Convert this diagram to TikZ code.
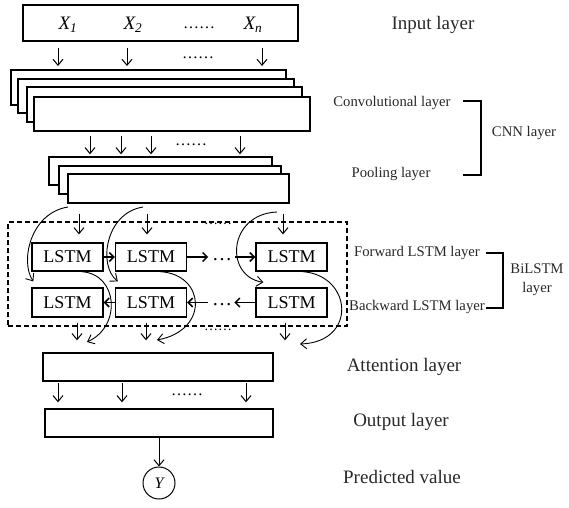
\documentclass[tikz,border=0pt]{standalone}
\usepackage{fontspec}
\setmainfont{Liberation Serif}
\usetikzlibrary{arrows.meta}
\definecolor{labc}{RGB}{40,40,40}
\begin{document}
\begin{tikzpicture}[x=1pt,y=-1pt,
 box/.style={draw, line width=1.4pt, fill=white, inner sep=0pt},
 arr/.style={-{Straight Barb[length=6pt,width=10pt]}, line width=1pt},
 harr/.style={-{Straight Barb[length=4.5pt,width=9pt]}, line width=1.5pt},
 carr/.style={-{Straight Barb[length=6pt,width=10pt]}, line width=0.9pt},
 lstm/.style={draw, line width=1.3pt, fill=white, minimum width=71pt, minimum height=28pt, inner sep=0pt, font=\fontsize{18}{18}\selectfont},
 lbl/.style={font=\fontsize{19}{20}\selectfont, text=labc},
 slbl/.style={font=\fontsize{14.7}{19}\selectfont, text=labc, align=center},
 dotsn/.style={font=\fontsize{16}{16}\selectfont, inner sep=0pt, anchor=base},
 xin/.style={font=\fontsize{19}{19}\selectfont\itshape},
 brk/.style={line width=1.6pt},
]
\useasboundingbox (0,0) rectangle (569,507);

% input layer
\node[box, minimum width=275pt, minimum height=36pt] (in) at (160.5,23) {};
\node[xin] (x1) at (68,25) {X\textsubscript{1}};
\node[xin] (x2) at (133,25) {X\textsubscript{2}};
\node[dotsn] (d1) at (199,28) {……};
\node[xin] (xn) at (253,25) {X\textsubscript{n}};
\foreach \x in {58,127,262} \draw[arr, shorten <=6pt, shorten >=4pt] (in.south -| \x,0) -- (\x,70);
\node[dotsn] (d2) at (198,58) {……};

% convolutional stack
\node[box, minimum width=275pt, minimum height=35pt] (c1) at (148.5,87.5) {};
\node[box, minimum width=276pt, minimum height=34pt] (c2) at (156,96) {};
\node[box, minimum width=275pt, minimum height=35pt] (c3) at (164.5,104.5) {};
\node[box, minimum width=276pt, minimum height=34pt] (c4) at (172,114) {};

% pooling stack
\node[box, minimum width=223pt, minimum height=28pt] (p1) at (160.5,171) {};
\node[box, minimum width=222pt, minimum height=28pt] (p2) at (170,180) {};
\node[box, minimum width=221pt, minimum height=29pt] (p3) at (178.5,188.5) {};
\foreach \x in {90,121,151,240} \draw[arr, shorten <=4pt, shorten >=2pt] (c4.south -| \x,0) -- (p1.north -| \x,0);
\node[dotsn] (d3) at (191,145) {……};

% BiLSTM block
\node[draw, dashed, dash pattern=on 5pt off 3pt, line width=1.3pt, minimum width=339pt, minimum height=104pt] (dbox) at (177.5,274) {};
\node[lstm] (f1) at (67.5,257) {LSTM};
\node[lstm] (f2) at (151,257) {LSTM};
\node[lstm] (f3) at (291.5,257) {LSTM};
\node[lstm, minimum height=29pt] (b1) at (67.5,302.5) {LSTM};
\node[lstm, minimum height=29pt] (b2) at (151,302.5) {LSTM};
\node[lstm, minimum height=29pt] (b3) at (291.5,302.5) {LSTM};

\foreach \x in {79,147,283} \draw[arr, shorten <=10pt, shorten >=8pt] (p3.south -| \x,0) -- (f1.north -| \x,0);
\node[dotsn, font=\fontsize{14}{14}\selectfont] (d4) at (218,224) {……};

\draw[harr] (f1.east) -- (f2.west);
\draw[harr] (f2.east) -- ++(21,0) coordinate (fa);
\node[dotsn, font=\fontsize{20}{20}\selectfont] (d5) at (222,260) {…};
\draw[harr] ([xshift=-20pt]f3.west) -- (f3.west);

\draw[harr] (b3.west) -- ++(-21,0);
\node[dotsn, font=\fontsize{20}{20}\selectfont] (d6) at (222,305) {…};
\draw[harr] ([xshift=21pt]b2.east) -- (b2.east);
\draw[harr] (b2.west) -- (b1.east);

% curved inputs to backward layer
\draw[carr] (68,207) .. controls (30,213) and (20,262) .. ([xshift=2pt,yshift=6pt]b1.north west);
\draw[carr] (143,207) .. controls (105,213) and (98,266) .. ([xshift=3pt,yshift=6pt]b2.north west);
\draw[carr] (277,212) .. controls (228,214) and (224,276) .. ([xshift=8pt,yshift=5pt]b3.north west);

% curved outputs of forward layer
\draw[carr] ([xshift=14pt]f1.south) .. controls (118,274) and (122,326) .. (87,342);
\draw[carr] ([xshift=9pt]f2.south) .. controls (205,274) and (210,330) .. (157,340);
\draw[carr] ([xshift=11pt]f3.south) .. controls (352,275) and (358,342) .. (300,344);

% attention
\node[box, minimum width=230pt, minimum height=28pt] (att) at (158,367) {};
\foreach \x in {77,146,285} \draw[arr, shorten <=5pt, shorten >=12pt] (b1.south -| \x,0) -- (att.north -| \x,0);
\node[dotsn, font=\fontsize{14}{14}\selectfont] (d7) at (218,330) {……};

% output
\node[box, minimum width=228pt, minimum height=28pt] (out) at (159,423) {};
\foreach \x in {58,122,246} \draw[arr, shorten <=1pt, shorten >=6pt] (att.south -| \x,0) -- (out.north -| \x,0);
\node[dotsn] (d8) at (187,395) {……};

\node[draw, circle, line width=1pt, minimum size=32pt, inner sep=0pt, font=\fontsize{16}{16}\selectfont\itshape] (y) at (159,483) {Y};
\draw[arr] (out.south) -- (y.north);

% labels
\node[lbl] (lin) at (433,25) {Input layer};
\node[slbl] (lconv) at (392,103) {Convolutional layer};
\node[slbl] (lpool) at (391,174) {Pooling layer};
\node[slbl] (lcnn) at (524,133) {CNN layer};
\draw[brk] (463,101) -| (481,175) -- (463,175);
\node[slbl] (lfw) at (417,253) {Forward LSTM layer};
\node[slbl] (lbw) at (417,307) {Backward LSTM layer};
\node[slbl] (lbi) at (537,280) {BiLSTM\\layer};
\draw[brk] (486,253) -| (503,308) -- (486,308);
\node[lbl] (latt) at (404,367) {Attention layer};
\node[lbl] (lout) at (401,422) {Output layer};
\node[lbl] (lpred) at (402,477) {Predicted value};
\end{tikzpicture}
\end{document}
